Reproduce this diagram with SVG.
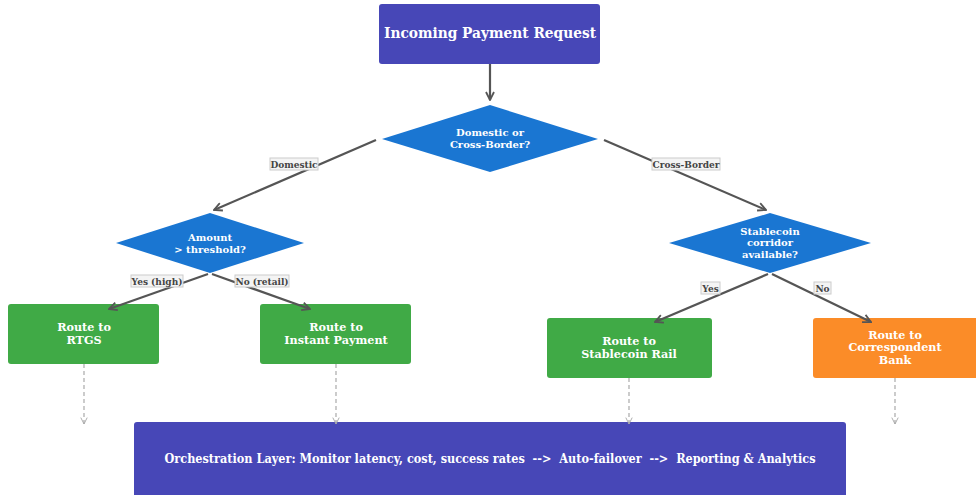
<svg xmlns="http://www.w3.org/2000/svg" width="976" height="495" viewBox="0 0 976 495">
<defs>
<style>
.t{font-family:"DejaVu Serif","Liberation Serif",serif;font-weight:bold;fill:#ffffff;text-anchor:middle}
.lbl{font-family:"DejaVu Serif","Liberation Serif",serif;font-weight:bold;fill:#444;font-size:9px;text-anchor:middle}
.lb{fill:#f4f4f4;stroke:#cccccc;stroke-width:1}
.e{stroke:#555;stroke-width:2.2;fill:none}
.d{stroke:#aaaaaa;stroke-width:1.2;stroke-dasharray:4,3;fill:none}
.purple{fill:#4747b7}
.blue{fill:#1a76d2}
.green{fill:#40aa46}
.orange{fill:#fb8c28}
.bt{font-size:11.2px}
</style>
<marker id="ah" viewBox="0 0 10 10" refX="9" refY="5" markerWidth="10" markerHeight="10" orient="auto" markerUnits="userSpaceOnUse">
<path d="M1,1 L9,5 L1,9" fill="none" stroke="#555" stroke-width="1.8"/>
</marker>
<marker id="ahd" viewBox="0 0 10 10" refX="9" refY="5" markerWidth="8" markerHeight="8" orient="auto" markerUnits="userSpaceOnUse">
<path d="M1,1 L9,5 L1,9" fill="none" stroke="#aaa" stroke-width="1.2"/>
</marker>
</defs>
<rect width="976" height="495" fill="#ffffff"/>
<g id="start">
<rect class="purple" x="379" y="4" width="221" height="60" rx="3"/>
<text class="t" x="490" y="38" font-size="14.5" textLength="212" lengthAdjust="spacingAndGlyphs">Incoming Payment Request</text>
</g>
<g id="decision-domestic">
<polygon class="blue" points="490,105 598,139 490,172 382,139"/>
<text class="t" x="490" y="136" font-size="10">Domestic or</text>
<text class="t" x="490" y="148" font-size="10">Cross-Border?</text>
</g>
<g id="decision-amount">
<polygon class="blue" points="210,213 304,243 210,273 116,243"/>
<text class="t" x="210" y="241" font-size="10">Amount</text>
<text class="t" x="210" y="252.5" font-size="10">&gt; threshold?</text>
</g>
<g id="decision-stablecoin">
<polygon class="blue" points="770,213 871,243 770,273 669,243"/>
<text class="t" x="770" y="234.5" font-size="10">Stablecoin</text>
<text class="t" x="770" y="246" font-size="10">corridor</text>
<text class="t" x="770" y="257.5" font-size="10">available?</text>
</g>
<g id="rtgs">
<rect class="green" x="8" y="304" width="151" height="60" rx="3"/>
<text class="t bt" x="84" y="330.5">Route to</text>
<text class="t bt" x="84" y="343.5">RTGS</text>
</g>
<g id="instant">
<rect class="green" x="260" y="304" width="151" height="60" rx="3"/>
<text class="t bt" x="336" y="330.5">Route to</text>
<text class="t bt" x="336" y="343.5">Instant Payment</text>
</g>
<g id="stablecoin">
<rect class="green" x="547" y="318" width="165" height="60" rx="3"/>
<text class="t bt" x="629" y="344.5">Route to</text>
<text class="t bt" x="629" y="357.5">Stablecoin Rail</text>
</g>
<g id="correspondent">
<rect class="orange" x="813" y="318" width="166" height="60" rx="3"/>
<text class="t bt" x="895" y="338.5">Route to</text>
<text class="t bt" x="895" y="351">Correspondent</text>
<text class="t bt" x="895" y="363.5">Bank</text>
</g>
<g id="orchestration">
<rect class="purple" x="134" y="422" width="712" height="80" rx="3"/>
<text class="t" x="490" y="463" font-size="12.5" style="font-family:'DejaVu Serif Condensed','DejaVu Serif',serif" textLength="651" lengthAdjust="spacingAndGlyphs" xml:space="preserve">Orchestration Layer: Monitor latency, cost, success rates  -->  Auto-failover  -->  Reporting &amp; Analytics</text>
</g>
<g id="connectors">
<line class="e" x1="490" y1="64" x2="490" y2="100" marker-end="url(#ah)"/>
<line class="e" x1="376" y1="140" x2="214" y2="210" marker-end="url(#ah)"/>
<line class="e" x1="604" y1="140" x2="766" y2="210" marker-end="url(#ah)"/>
<line class="e" x1="208" y1="274" x2="109" y2="309" marker-end="url(#ah)"/>
<line class="e" x1="212" y1="274" x2="310" y2="309" marker-end="url(#ah)"/>
<line class="e" x1="768" y1="274" x2="655" y2="322" marker-end="url(#ah)"/>
<line class="e" x1="772" y1="274" x2="871" y2="322" marker-end="url(#ah)"/>
<line class="d" x1="84" y1="364" x2="84" y2="424" marker-end="url(#ahd)"/>
<line class="d" x1="336" y1="364" x2="336" y2="424" marker-end="url(#ahd)"/>
<line class="d" x1="629" y1="378" x2="629" y2="424" marker-end="url(#ahd)"/>
<line class="d" x1="895" y1="378" x2="895" y2="424" marker-end="url(#ahd)"/>
<rect class="lb" x="270" y="158" width="48" height="12"/>
<text class="lbl" x="294" y="167.5">Domestic</text>
<rect class="lb" x="652" y="158" width="68" height="12"/>
<text class="lbl" x="686" y="167.5">Cross-Border</text>
<rect class="lb" x="131" y="275" width="52" height="12"/>
<text class="lbl" x="157" y="284.5">Yes (high)</text>
<rect class="lb" x="235" y="275" width="54" height="12"/>
<text class="lbl" x="262" y="284.5">No (retail)</text>
<rect class="lb" x="701" y="282" width="19" height="12"/>
<text class="lbl" x="710.5" y="291.5">Yes</text>
<rect class="lb" x="814" y="282" width="17" height="12"/>
<text class="lbl" x="822.5" y="291.5">No</text>
</g>
</svg>
